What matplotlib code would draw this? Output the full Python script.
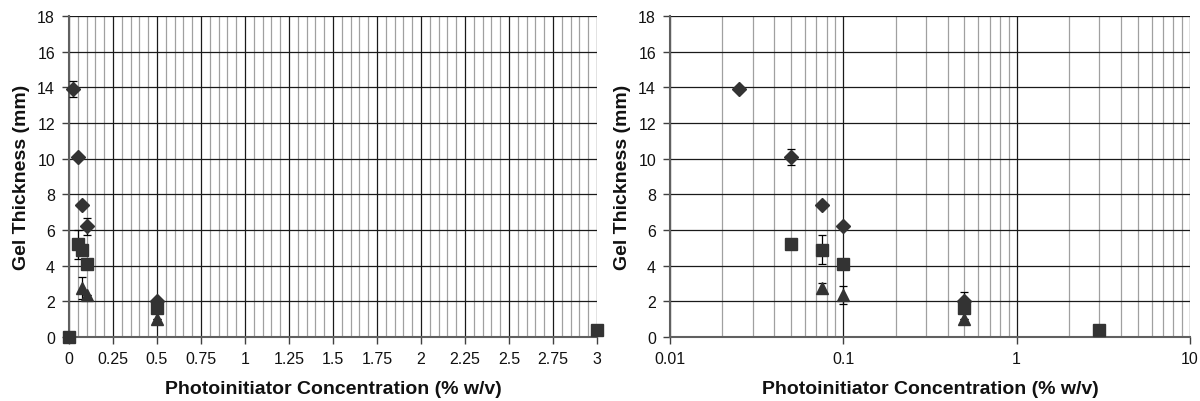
import matplotlib.pyplot as plt
import numpy as np
from matplotlib.ticker import MultipleLocator, LogLocator

plt.rcParams['font.family'] = ['Liberation Sans', 'DejaVu Sans']

# data
dia_x = [0.025, 0.05, 0.075, 0.1, 0.5]
dia_y = [13.9, 10.1, 7.4, 6.2, 2.0]
sq_x = [0.0, 0.05, 0.075, 0.1, 0.5, 3.0]
sq_y = [0.0, 5.2, 4.9, 4.1, 1.6, 0.4]
tri_x = [0.075, 0.1, 0.5]
tri_y = [2.75, 2.35, 1.0]

# error bars differ between the two panels in the original
dia_err_lin = [0.45, 0.0, 0.0, 0.5, 0.0]
sq_err_lin = [0.0, 0.8, 0.0, 0.0, 0.0, 0.0]
tri_err_lin = [0.6, 0.0, 0.0]
dia_err_log = [0.0, 0.45, 0.1, 0.0, 0.5]
sq_err_log = [0.0, 0.0, 0.8, 0.0, 0.0, 0.0]
tri_err_log = [0.3, 0.5, 0.0]

lin_ticks = [0, 0.25, 0.5, 0.75, 1, 1.25, 1.5, 1.75, 2, 2.25, 2.5, 2.75, 3]
lin_labels = ['0', '0.25', '0.5', '0.75', '1', '1.25', '1.5', '1.75', '2',
              '2.25', '2.5', '2.75', '3']
log_ticks = [0.01, 0.1, 1, 10]
log_labels = ['0.01', '0.1', '1', '10']

mcol = '#333333'

fig = plt.figure(figsize=(12, 4.02), dpi=100)
ax1 = fig.add_axes([69/1200, 64/402, 528/1200, 321/402])
ax2 = fig.add_axes([670/1200, 64/402, 520/1200, 321/402])


def draw(ax, errs):
    de, se, te = errs
    ax.errorbar(dia_x, dia_y, yerr=de, fmt='D', ms=7, color=mcol,
                ecolor='black', elinewidth=0.9, capsize=3, capthick=0.9, zorder=5)
    ax.errorbar(sq_x, sq_y, yerr=se, fmt='s', ms=8.5, color=mcol,
                ecolor='black', elinewidth=0.9, capsize=3, capthick=0.9, zorder=5)
    ax.errorbar(tri_x, tri_y, yerr=te, fmt='^', ms=9, color=mcol,
                ecolor='black', elinewidth=0.9, capsize=3, capthick=0.9, zorder=5)
    ax.set_ylim(0, 18)
    ax.yaxis.set_major_locator(MultipleLocator(2))
    ax.grid(which='major', color='#1a1a1a', lw=0.9)
    ax.grid(which='minor', axis='x', color='#a0a0a0', lw=0.9)
    ax.set_axisbelow(True)
    for s in ['top', 'right']:
        ax.spines[s].set_visible(False)
    for s in ['left', 'bottom']:
        ax.spines[s].set_color('#606060')
        ax.spines[s].set_linewidth(1.5)
    ax.tick_params(which='major', length=5, width=1, color='#404040',
                   labelsize=11.5, labelcolor='#111111')
    ax.tick_params(axis='x', pad=5)
    ax.tick_params(axis='y', pad=5)
    ax.tick_params(which='minor', length=0)
    ax.set_ylabel('Gel Thickness (mm)', fontsize=14, fontweight='bold',
                  labelpad=5, color='#111111')
    ax.set_xlabel('Photoinitiator Concentration (% w/v)', fontsize=14,
                  fontweight='bold', labelpad=10, color='#111111')


draw(ax1, (dia_err_lin, sq_err_lin, tri_err_lin))
ax1.set_xlim(0, 3)
ax1.set_xticks(lin_ticks)
ax1.set_xticklabels(lin_labels)
ax1.xaxis.set_minor_locator(MultipleLocator(0.05))
for m in ax1.lines:
    m.set_clip_on(False)

draw(ax2, (dia_err_log, sq_err_log, tri_err_log))
ax2.set_xscale('log')
ax2.set_xlim(0.01, 10)
ax2.set_xticks(log_ticks)
ax2.set_xticklabels(log_labels)
ax2.xaxis.set_minor_locator(LogLocator(base=10, subs=np.arange(2, 10)))
ax2.xaxis.set_minor_formatter(plt.NullFormatter())

fig.savefig('out.png', dpi=100)
